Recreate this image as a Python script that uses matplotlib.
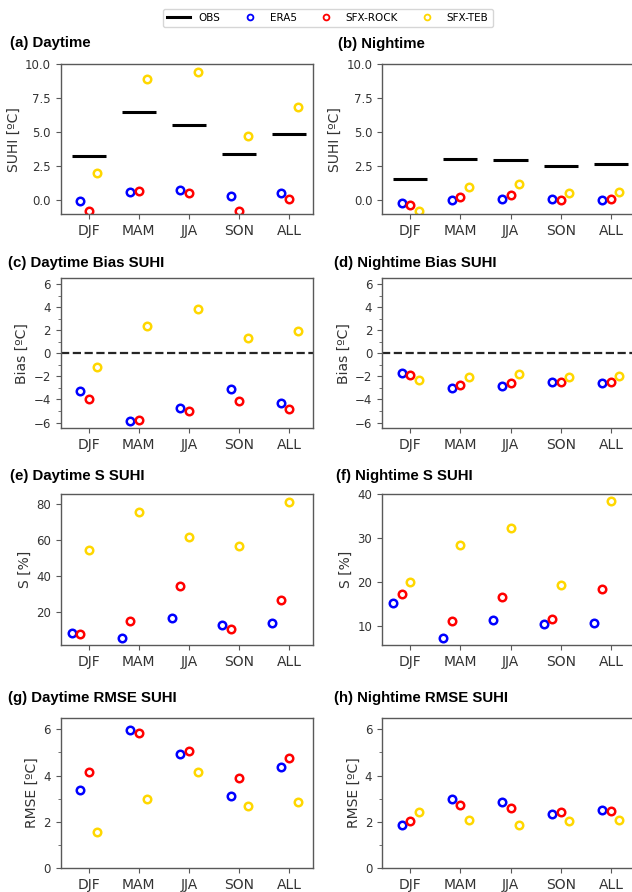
import numpy as np
import matplotlib
matplotlib.use('Agg')
import matplotlib.pyplot as plt
from matplotlib.lines import Line2D
from matplotlib.ticker import MultipleLocator

# Seasons on the x axis
seasons = ['DJF', 'MAM', 'JJA', 'SON', 'ALL']

# (a)/(b) SUHI values
obs_day = [3.26, 6.52, 5.51, 3.38, 4.90]
era5_day = [-0.05, 0.59, 0.78, 0.29, 0.56]
rock_day = [-0.76, 0.71, 0.51, -0.81, 0.12]
teb_day = [1.99, 8.95, 9.44, 4.73, 6.89]

obs_night = [1.57, 3.01, 2.94, 2.55, 2.65]
era5_night = [-0.17, 0.00, 0.10, 0.10, 0.02]
rock_night = [-0.37, 0.27, 0.37, 0.00, 0.12]
teb_night = [-0.76, 0.96, 1.18, 0.51, 0.61]

# (c)/(d) bias
era5_bias_day = [-3.28, -5.86, -4.71, -3.08, -4.31]
rock_bias_day = [-3.99, -5.77, -5.00, -4.17, -4.80]
teb_bias_day = [-1.22, 2.39, 3.88, 1.36, 1.96]

era5_bias_night = [-1.73, -2.99, -2.85, -2.45, -2.59]
rock_bias_night = [-1.90, -2.71, -2.56, -2.53, -2.51]
teb_bias_night = [-2.31, -2.02, -1.79, -2.02, -1.96]

# (e)/(f) S
era5_s_day = [8.2, 5.6, 16.9, 12.8, 14.1]
rock_s_day = [7.8, 15.4, 34.4, 10.6, 27.0]
teb_s_day = [54.7, 75.9, 61.7, 56.6, 81.3]

era5_s_night = [15.2, 7.2, 11.4, 10.4, 10.6]
rock_s_night = [17.2, 11.1, 16.5, 11.6, 18.4]
teb_s_night = [20.0, 28.5, 32.4, 19.2, 38.5]

# (g)/(h) RMSE
era5_rmse_day = [3.38, 5.99, 4.93, 3.10, 4.38]
rock_rmse_day = [4.14, 5.84, 5.07, 3.91, 4.78]
teb_rmse_day = [1.58, 2.97, 4.17, 2.70, 2.88]

era5_rmse_night = [1.86, 2.97, 2.87, 2.33, 2.52]
rock_rmse_night = [2.04, 2.75, 2.61, 2.41, 2.46]
teb_rmse_night = [2.43, 2.10, 1.87, 2.03, 2.10]

colors = {'ERA5': '#0000ff', 'SFX-ROCK': '#ff0000', 'SFX-TEB': '#ffd700'}
W, H = 632, 892
x = np.arange(len(seasons))
dx = 0.17

fig = plt.figure(figsize=(W / 100, H / 100), dpi=100)

# axes boxes in pixels: (left, top, bottom)
col_left = [60.5, 382]
rows = [(64.3, 214.3), (278.3, 428.3), (494.3, 645), (717.7, 868.3)]
ax_w = 252


def make_ax(col, row):
    top, bot = rows[row]
    return fig.add_axes([col_left[col] / W, 1 - bot / H, ax_w / W, (bot - top) / H])


def style(ax, ylabel):
    for s in ax.spines.values():
        s.set_color('0.35')
        s.set_linewidth(1.0)
    ax.tick_params(axis='both', colors='0.35', labelcolor='0.2', length=3.5)
    ax.tick_params(axis='x', labelsize=10)
    ax.tick_params(axis='y', labelsize=8.5)
    ax.tick_params(which='minor', colors='0.35', length=2.2)
    ax.set_xticks(x)
    ax.set_xticklabels(seasons)
    ax.set_xlim(-0.56, 4.46)
    ax.set_ylabel(ylabel, fontsize=10, color='0.2', labelpad=3)


def points(ax, vals, offsets):
    for (name, v), off in zip(vals, offsets):
        ax.plot(x + off, v, 'o', ms=5.4, mfc='none', mec=colors[name], mew=1.8,
                linestyle='none')


def title(px, py, txt):
    fig.text(px / W, 1 - py / H, txt, fontsize=10.8, fontweight='bold',
             family='Liberation Sans', va='center', ha='left')


mid = [-dx, 0, dx]
left = [-2 * dx, -dx, 0]

# (a) and (b)
for col, (obs, e, r, t) in enumerate([(obs_day, era5_day, rock_day, teb_day),
                                      (obs_night, era5_night, rock_night, teb_night)]):
    ax = make_ax(col, 0)
    ax.hlines(obs, x - 0.34, x + 0.34, colors='black', lw=2.2)
    points(ax, [('ERA5', e), ('SFX-ROCK', r), ('SFX-TEB', t)], mid)
    ax.set_ylim(-1.03, 10)
    ax.set_yticks([0, 2.5, 5, 7.5, 10])
    ax.set_yticklabels(['0.0', '2.5', '5.0', '7.5', '10.0'])
    style(ax, 'SUHI [ºC]')

# (c) and (d)
for col, (e, r, t) in enumerate([(era5_bias_day, rock_bias_day, teb_bias_day),
                                 (era5_bias_night, rock_bias_night, teb_bias_night)]):
    ax = make_ax(col, 1)
    ax.axhline(0, color='0.15', ls='--', lw=1.6)
    points(ax, [('ERA5', e), ('SFX-ROCK', r), ('SFX-TEB', t)], mid)
    ax.set_ylim(-6.5, 6.5)
    ax.set_yticks(np.arange(-6, 7, 2))
    ax.yaxis.set_minor_locator(MultipleLocator(1))
    style(ax, 'Bias [ºC]')

# (e) and (f)
s_lims = [(1.8, 85.5), (5.6, 40.0)]
s_ticks = [[20, 40, 60, 80], [10, 20, 30, 40]]
for col, (e, r, t) in enumerate([(era5_s_day, rock_s_day, teb_s_day),
                                 (era5_s_night, rock_s_night, teb_s_night)]):
    ax = make_ax(col, 2)
    points(ax, [('ERA5', e), ('SFX-ROCK', r), ('SFX-TEB', t)], left)
    ax.set_ylim(*s_lims[col])
    ax.set_yticks(s_ticks[col])
    style(ax, 'S [%]')

# (g) and (h)
for col, (e, r, t) in enumerate([(era5_rmse_day, rock_rmse_day, teb_rmse_day),
                                 (era5_rmse_night, rock_rmse_night, teb_rmse_night)]):
    ax = make_ax(col, 3)
    points(ax, [('ERA5', e), ('SFX-ROCK', r), ('SFX-TEB', t)], mid)
    ax.set_ylim(0, 6.5)
    ax.set_yticks([0, 2, 4, 6])
    ax.yaxis.set_minor_locator(MultipleLocator(1))
    style(ax, 'RMSE [ºC]')

title(10, 43.5, '(a) Daytime')
title(338, 44, '(b) Nightime')
title(8, 263.3, '(c) Daytime Bias SUHI')
title(334, 263.3, '(d) Nightime Bias SUHI')
title(10, 476, '(e) Daytime S SUHI')
title(336, 476, '(f) Nightime S SUHI')
title(8, 698, '(g) Daytime RMSE SUHI')
title(334, 698, '(h) Nightime RMSE SUHI')

# legend at the top
handles = [Line2D([], [], color='black', lw=2.2, label='OBS')]
for name in ['ERA5', 'SFX-ROCK', 'SFX-TEB']:
    handles.append(Line2D([], [], marker='o', ls='none', ms=4.2, mfc='none',
                          mec=colors[name], mew=1.3, label=name))
fig.legend(handles=handles, loc='center', bbox_to_anchor=(328 / W, 1 - 18 / H),
           ncol=4, fontsize=7.5, columnspacing=1.7, handlelength=2.2,
           borderpad=0.4, frameon=True)

plt.savefig('out.png', dpi=100)
